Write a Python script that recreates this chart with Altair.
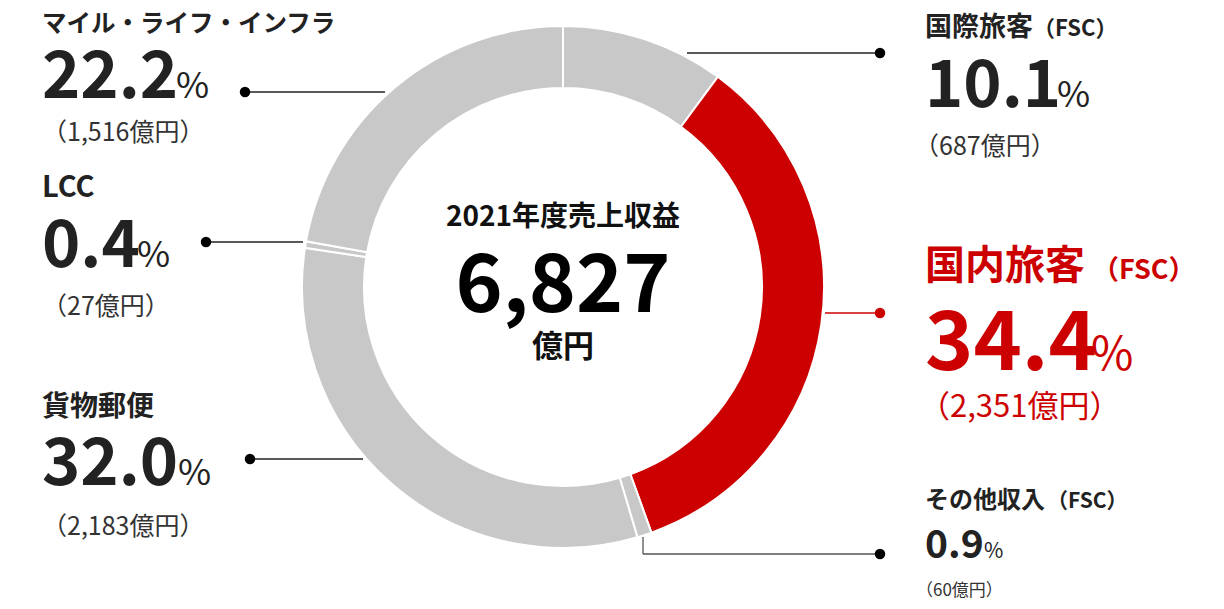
import altair as alt
import pandas as pd

# ---- data ----
categories = ["国際旅客", "国内旅客", "その他収入", "貨物郵便", "LCC", "マイル・ライフ・インフラ"]
suffixes = ["（FSC）", "（FSC）", "（FSC）", "", "", ""]
shares = [10.1, 34.4, 0.9, 32.0, 0.4, 22.2]
amounts = [687, 2351, 60, 2183, 27, 1516]
total_title = "2021年度売上収益"
total_value = 6827
unit = "億円"

# ---- style ----
FONT = "Noto Sans CJK JP"
GRAY = "#c8c8c8"
RED = "#cc0000"
DARK = "#222222"
seg_colors = [GRAY, RED, GRAY, GRAY, GRAY, GRAY]

OFF = 8  # page margin


def txt(s, x, y, size, weight="bold", color=DARK, align="left"):
    return alt.Chart(pd.DataFrame({"t": [s]})).mark_text(
        align=align, baseline="alphabetic", fontSize=size, fontWeight=weight,
        color=color, font=FONT
    ).encode(x=alt.value(x - OFF), y=alt.value(y - OFF), text="t:N")


def rule(x1, x2, y1, y2, color=DARK, w=1.3):
    return alt.Chart(pd.DataFrame({"a": [0]})).mark_rule(color=color, strokeWidth=w).encode(
        x=alt.value(x1 - OFF), x2=alt.value(x2 - OFF), y=alt.value(y1 - OFF), y2=alt.value(y2 - OFF))


def dot(x, y, color="#000000"):
    return alt.Chart(pd.DataFrame({"a": [0]})).mark_circle(color=color, size=110, opacity=1).encode(
        x=alt.value(x - OFF), y=alt.value(y - OFF))


df = pd.DataFrame({"cat": categories, "share": shares, "order": list(range(len(categories)))})

arc = alt.Chart(df).mark_arc(outerRadius=261, innerRadius=199, stroke="white", strokeWidth=2).encode(
    theta=alt.Theta("share:Q", stack=True),
    order=alt.Order("order:Q"),
    color=alt.Color("cat:N", scale=alt.Scale(domain=categories, range=seg_colors), legend=None),
    x=alt.value(563 - OFF),
    y=alt.value(287 - OFF),
)

layers = [arc]

# leader lines
layers += [
    rule(687, 880, 53, 53), dot(880, 53),
    rule(825, 880, 313, 313, color=RED), dot(880, 313, RED),
    rule(643, 643, 537, 554, color="#555555"), rule(643, 880, 554, 554, color="#555555"), dot(880, 554),
    rule(245, 385, 92, 92), dot(245, 92),
    rule(206, 303, 242, 242), dot(206, 242),
    rule(250, 363, 459, 459), dot(250, 459),
]


def pct(v):
    return f"{v:.1f}"


def amt(v):
    return f"（{v:,}{unit}）"


LIGHT = "#333333"

# 国際旅客
i = 0
layers += [
    txt(categories[i], 925, 36, 27), txt(suffixes[i], 1033, 36, 22),
    txt(pct(shares[i]), 925, 107, 65), txt("%", 1057, 107, 36, weight="normal"),
    txt(amt(amounts[i]), 914, 155, 25, weight="normal", color=LIGHT),
]
# 国内旅客
i = 1
layers += [
    txt(categories[i], 925, 279, 40, color=RED), txt(suffixes[i], 1092, 279, 27, color=RED),
    txt(pct(shares[i]), 925, 370, 82, color=RED), txt("%", 1091, 370, 46, weight="normal", color=RED),
    txt(amt(amounts[i]), 919, 417, 31, weight="normal", color=RED),
]
# その他収入
i = 2
layers += [
    txt(categories[i], 925, 508, 24), txt(suffixes[i], 1047, 508, 21),
    txt(pct(shares[i]), 925, 558, 39), txt("%", 984, 558, 21, weight="normal"),
    txt(amt(amounts[i]), 916, 596, 17, weight="normal", color=LIGHT),
]
# マイル・ライフ・インフラ
i = 5
layers += [
    txt(categories[i], 42, 32, 24.5),
    txt(pct(shares[i]), 42, 98, 65), txt("%", 176, 98, 36, weight="normal"),
    txt(amt(amounts[i]), 42, 141, 25, weight="normal", color=LIGHT),
]
# LCC
i = 4
layers += [
    txt(categories[i], 42, 197, 29),
    txt(pct(shares[i]), 42, 267, 65), txt("%", 137, 267, 36, weight="normal"),
    txt(amt(amounts[i]), 42, 315, 25, weight="normal", color=LIGHT),
]
# 貨物郵便
i = 3
layers += [
    txt(categories[i], 42, 416, 28),
    txt(pct(shares[i]), 42, 485, 65), txt("%", 178, 485, 36, weight="normal"),
    txt(amt(amounts[i]), 42, 535, 25, weight="normal", color=LIGHT),
]
# center
layers += [
    txt(total_title, 563, 226, 28, color="#111", align="center"),
    txt(f"{total_value:,}", 563, 312, 80, color="#000", align="center"),
    txt(unit, 563, 357, 31, color="#111", align="center"),
]

chart = alt.layer(*layers).properties(
    width=1208, height=593, padding=0, autosize="none", background="white"
).configure_view(stroke=None)

chart.save("out.html", embed_options={"renderer": "svg", "actions": False})
